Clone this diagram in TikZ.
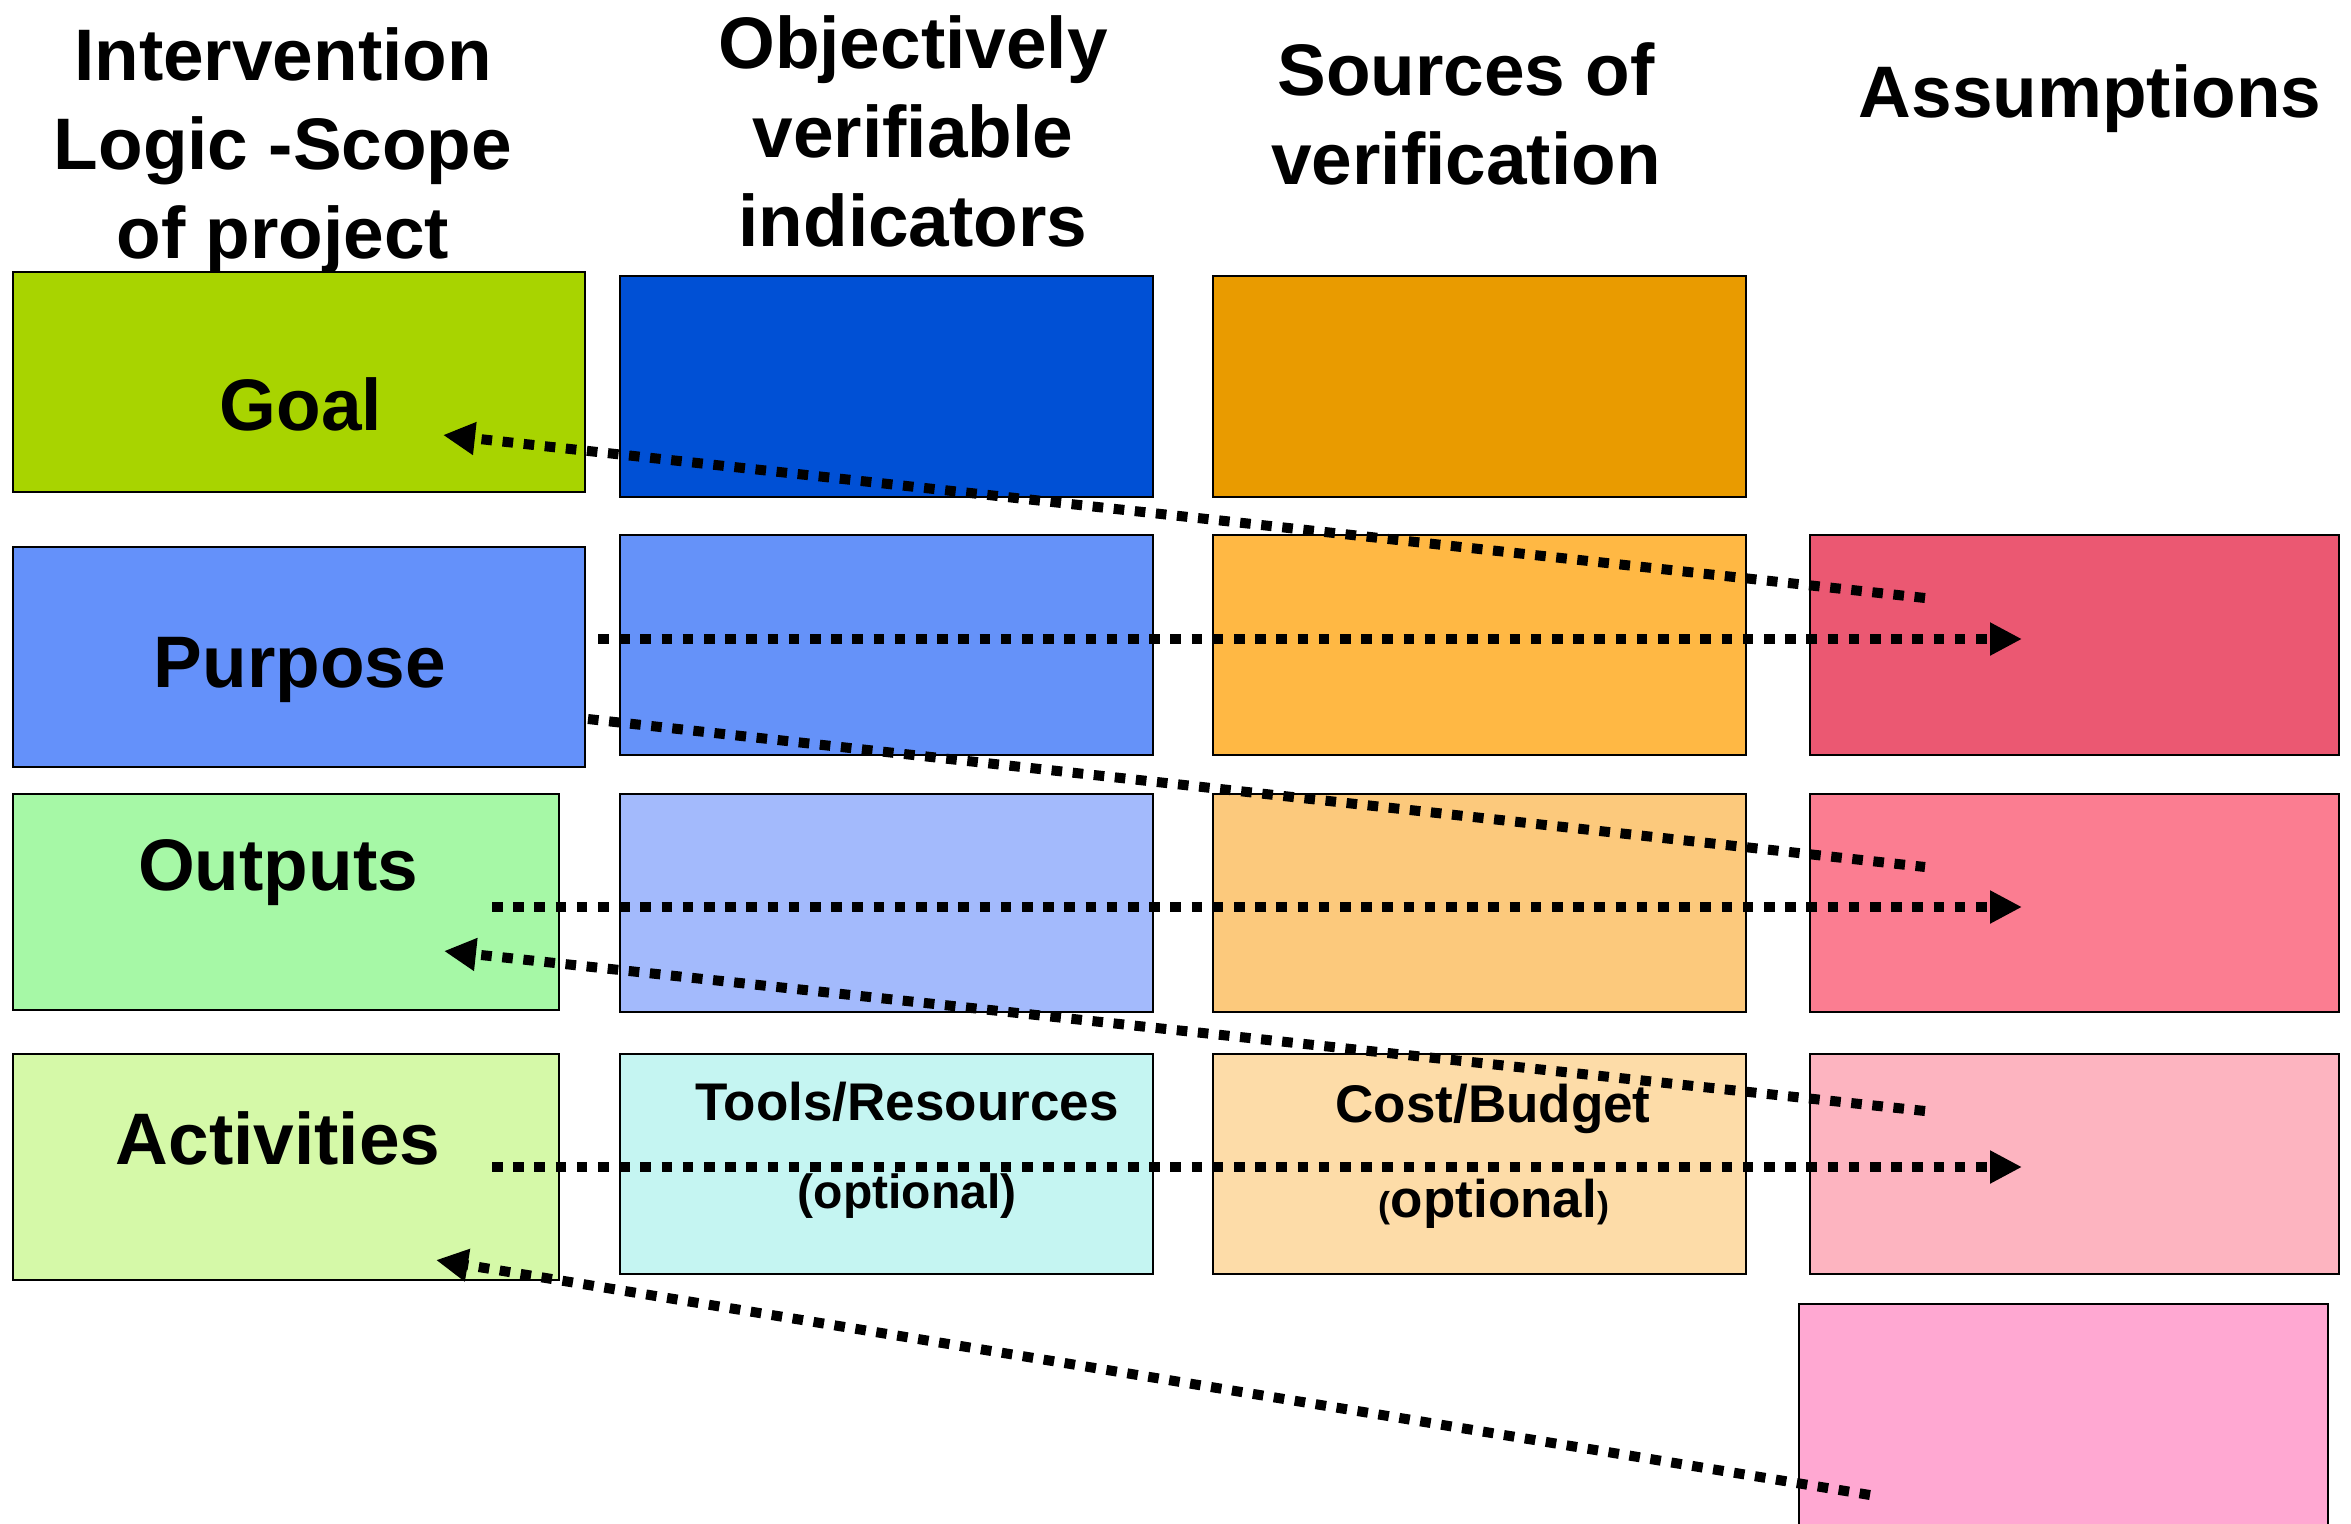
\documentclass[tikz,border=0pt]{standalone}
\usepackage{fontspec}
\setmainfont{Liberation Sans}
\usetikzlibrary{fit,arrows.meta}
\definecolor{cGoal}{HTML}{A8D400}
\definecolor{cBlueA}{HTML}{0050D5}
\definecolor{cOrA}{HTML}{E99B00}
\definecolor{cPurp}{HTML}{6491FA}
\definecolor{cBlueB}{HTML}{6592F9}
\definecolor{cOrB}{HTML}{FFB844}
\definecolor{cRedA}{HTML}{EB5872}
\definecolor{cOut}{HTML}{A6F8A6}
\definecolor{cBlueC}{HTML}{A3BAFC}
\definecolor{cOrC}{HTML}{FCC97C}
\definecolor{cRedB}{HTML}{FB7D91}
\definecolor{cAct}{HTML}{D5F9A8}
\definecolor{cCyan}{HTML}{C5F5F2}
\definecolor{cOrD}{HTML}{FDDCA8}
\definecolor{cRedC}{HTML}{FDB4C0}
\definecolor{cPinkD}{HTML}{FFA8D2}
\begin{document}
\begin{tikzpicture}[x=0.5pt,y=-0.5pt,
  box/.style={draw=black, line width=1.2pt, inner sep=0pt, outer sep=0pt, rectangle},
  hdr/.style={font=\fontsize{36.5}{44.5}\selectfont\bfseries, align=center, inner sep=0pt},
  lbl/.style={font=\fontsize{36.5}{44.5}\selectfont\bfseries, inner sep=0pt},
  sml/.style={font=\fontsize{26.5}{30}\selectfont\bfseries, inner sep=0pt},
  conn/.style={line width=5pt, dash pattern=on 5.3pt off 5.3pt},
  tip/.style={-{Triangle[length=16pt,width=15.5pt]}}]
\useasboundingbox (0,0) rectangle (2351,1523);
\clip (0,0) rectangle (2351,1523);
% headers (anchor = baseline of last line)
\node[hdr, anchor=base] (h1) at (283,258) {Intervention\\Logic -Scope\\of project};
\node[hdr, anchor=base] (h2) at (913,246) {Objectively\\verifiable\\indicators};
\node[hdr, anchor=base] (h3) at (1466,184) {Sources of\\verification};
\node[hdr, anchor=base] (h4) at (2090,117) {Assumptions};
% row 1
\node[box, fill=cGoal, fit={(13,272) (585,492)}] (goal) {};
\node[box, fill=cBlueA, fit={(620,276) (1153,497)}] (ovi1) {};
\node[box, fill=cOrA, fit={(1213,276) (1746,497)}] (sov1) {};
% row 2
\node[box, fill=cPurp, fit={(13,547) (585,767)}] (purp) {};
\node[box, fill=cBlueB, fit={(620,535) (1153,755)}] (ovi2) {};
\node[box, fill=cOrB, fit={(1213,535) (1746,755)}] (sov2) {};
\node[box, fill=cRedA, fit={(1810,535) (2339,755)}] (as1) {};
% row 3
\node[box, fill=cOut, fit={(13,794) (559,1010)}] (outp) {};
\node[box, fill=cBlueC, fit={(620,794) (1153,1012)}] (ovi3) {};
\node[box, fill=cOrC, fit={(1213,794) (1746,1012)}] (sov3) {};
\node[box, fill=cRedB, fit={(1810,794) (2339,1012)}] (as2) {};
% row 4
\node[box, fill=cAct, fit={(13,1054) (559,1280)}] (act) {};
\node[box, fill=cCyan, fit={(620,1054) (1153,1274)}] (ovi4) {};
\node[box, fill=cOrD, fit={(1213,1054) (1746,1274)}] (sov4) {};
\node[box, fill=cRedC, fit={(1810,1054) (2339,1274)}] (as3) {};
% row 5
\node[box, fill=cPinkD, fit={(1799,1304) (2328,1545)}] (as4) {};
% labels
\node[lbl, anchor=base] (tgoal) at (301,430) {Goal};
\node[lbl, anchor=base] (tpurp) at (300,687) {Purpose};
\node[lbl, anchor=base] (toutp) at (278,890) {Outputs};
\node[lbl, anchor=base] (tact) at (278,1164) {Activities};
\node[sml, anchor=base] (ttools) at (907,1120) {Tools/Resources};
\node[sml, anchor=base, font=\fontsize{24}{28}\selectfont\bfseries] (topt1) at (907,1208) {(optional)};
\node[sml, anchor=base] (tcost) at (1493,1122) {Cost/Budget};
\node[sml, anchor=base] (topt2) at (1494,1217) {{\fontsize{18}{20}\selectfont(}optional{\fontsize{18}{20}\selectfont)}};
% connector end points
\coordinate (gS) at (1925,598);
\coordinate (gE) at (443,435);
\coordinate (pS) at (598,639);
\coordinate (pE) at (2022,639);
\coordinate (dS) at (588,719);
\coordinate (dE) at (1925,867);
\coordinate (oS) at (492,907);
\coordinate (oE) at (2022,907);
\coordinate (o2S) at (1925,1111);
\coordinate (o2E) at (444,951);
\coordinate (aS) at (492,1167);
\coordinate (aE) at (2022,1167);
\coordinate (a2S) at (1870,1495);
\coordinate (a2E) at (436,1260);
% connectors
\draw[conn, tip] (gS) -- (gE);
\draw[conn, tip] (pS) -- (pE);
\draw[conn] (dS) -- (dE);
\draw[conn, tip] (oS) -- (oE);
\draw[conn, tip] (o2S) -- (o2E);
\draw[conn, tip] (aS) -- (aE);
\draw[conn, tip] (a2S) -- (a2E);
\end{tikzpicture}
\end{document}
